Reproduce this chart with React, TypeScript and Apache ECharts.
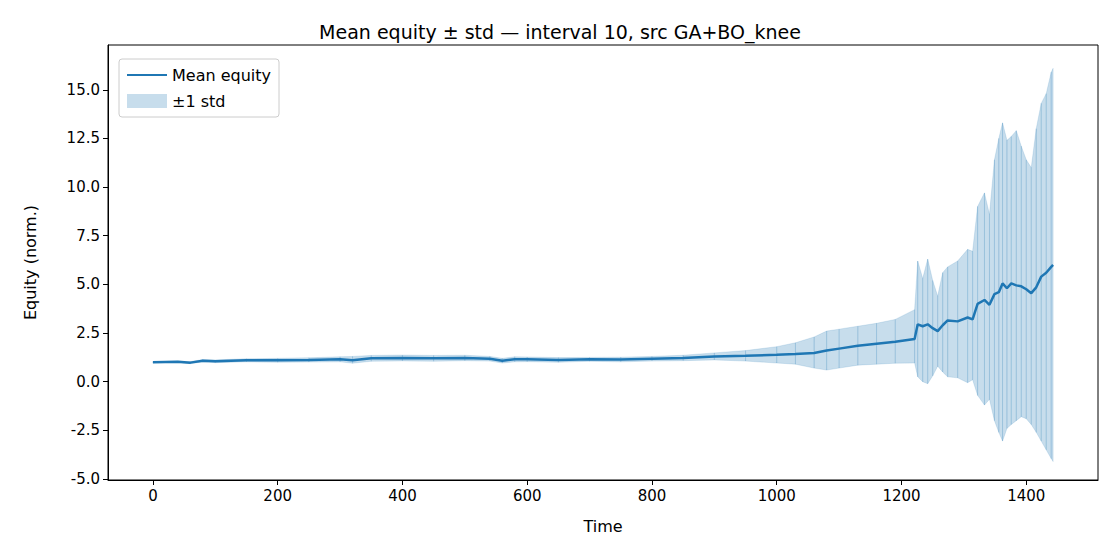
import React, { useEffect, useRef } from "react";
import * as echarts from "echarts";

const times = [0, 40, 60, 80, 100, 150, 200, 250, 300, 320, 350, 400, 450, 500, 540, 560, 580, 600, 650, 700, 750, 800, 850, 900, 950, 1000, 1030, 1060, 1080, 1100, 1130, 1160, 1190, 1221, 1226, 1234, 1242, 1250, 1258, 1266, 1274, 1290, 1306, 1314, 1322, 1333, 1341, 1349, 1356, 1362, 1369, 1376, 1384, 1392, 1400, 1408, 1416, 1424, 1432, 1440, 1443];
const meanVals = [1.0, 1.02, 0.98, 1.08, 1.05, 1.1, 1.1, 1.12, 1.15, 1.1, 1.2, 1.22, 1.2, 1.22, 1.18, 1.08, 1.15, 1.15, 1.12, 1.15, 1.14, 1.18, 1.22, 1.3, 1.33, 1.38, 1.42, 1.48, 1.6, 1.7, 1.85, 1.95, 2.05, 2.2, 2.95, 2.85, 2.95, 2.75, 2.6, 2.9, 3.15, 3.1, 3.3, 3.2, 4.0, 4.2, 3.95, 4.5, 4.6, 5.05, 4.8, 5.05, 4.95, 4.9, 4.75, 4.55, 4.85, 5.4, 5.6, 5.9, 6.0];
const upperVals = [1.02, 1.06, 1.03, 1.14, 1.12, 1.18, 1.2, 1.23, 1.28, 1.3, 1.35, 1.37, 1.35, 1.36, 1.3, 1.2, 1.28, 1.27, 1.24, 1.25, 1.26, 1.3, 1.36, 1.48, 1.6, 1.8, 2.0, 2.3, 2.6, 2.7, 2.85, 3.0, 3.2, 3.7, 6.2, 5.3, 6.3, 5.2, 4.4, 5.6, 5.9, 6.2, 6.8, 6.7, 9.0, 9.7, 8.6, 11.4, 12.5, 13.3, 12.4, 12.6, 12.9, 12.1, 11.4, 11.0, 13.0, 14.3, 14.8, 15.9, 16.1];
const lowerVals = [0.98, 0.98, 0.93, 1.02, 0.98, 1.02, 1.0, 1.01, 1.02, 0.95, 1.05, 1.07, 1.05, 1.08, 1.06, 0.96, 1.02, 1.03, 1.0, 1.05, 1.02, 1.06, 1.08, 1.12, 1.06, 0.96, 0.9, 0.7, 0.6, 0.7, 0.85, 0.9, 0.95, 0.96, 0.25, 0.0, -0.1, 0.3, 0.8, 0.5, 0.25, 0.2, -0.05, 0.1, -0.7, -1.2, -0.9, -2.0, -2.6, -3.05, -2.4, -2.2, -2.0, -1.8, -1.9, -2.2, -2.6, -3.05, -3.5, -3.95, -4.1];

const xTicks = [0, 200, 400, 600, 800, 1000, 1200, 1400];
const yTicks = [-5, -2.5, 0, 2.5, 5, 7.5, 10, 12.5, 15];

const bandColor = "rgba(31,119,180,0.25)";

const App = () => {
  const chartRef = useRef(null);

  useEffect(() => {
    const chart = echarts.init(chartRef.current, null, { renderer: "svg" });
    const font = "DejaVu Sans";
    // one quad per segment between consecutive samples
    const segs = times.slice(0, -1).map((t, i) => [t, times[i + 1], lowerVals[i], upperVals[i], lowerVals[i + 1], upperVals[i + 1]]);
    const mean = times.map((t, i) => [t, meanVals[i]]);
    const axisLine = { show: true, onZero: false, lineStyle: { color: "#000", width: 1 } };

    chart.setOption({
      animation: false,
      textStyle: { fontFamily: font },
      title: {
        text: "Mean equity ± std — interval 10, src GA+BO_knee",
        left: "center",
        top: 9,
        textStyle: { fontFamily: font, fontSize: 19, fontWeight: "normal", color: "#000" },
      },
      legend: {
        left: 111,
        top: 51,
        orient: "vertical",
        borderColor: "#ccc",
        borderWidth: 1,
        borderRadius: 3,
        padding: [8, 8, 8, 8],
        itemGap: 10,
        itemWidth: 40,
        itemHeight: 14,
        textStyle: { fontFamily: font, fontSize: 16, color: "#000" },
        data: [
          { name: "Mean equity", icon: "path://M0,6 L40,6 L40,8 L0,8 Z", itemStyle: { color: "#1f77b4" } },
          { name: "±1 std", icon: "rect", itemStyle: { color: bandColor } },
        ],
      },
      grid: { left: 100, right: 14, top: 37, bottom: 72, show: true, borderColor: "#000", borderWidth: 1 },
      xAxis: {
        type: "value",
        min: -72,
        max: 1515,
        name: "Time",
        nameLocation: "middle",
        nameGap: 38,
        nameTextStyle: { fontSize: 16, color: "#000", fontFamily: font },
        axisLine,
        splitLine: { show: false },
        axisTick: { show: true, customValues: xTicks, length: 5, lineStyle: { color: "#000" } },
        axisLabel: { customValues: xTicks, fontSize: 15, color: "#000", fontFamily: font, margin: 8, formatter: (v: number) => String(v) },
      },
      yAxis: {
        type: "value",
        min: -5.05,
        max: 17.3,
        name: "Equity (norm.)",
        nameLocation: "middle",
        nameGap: 70,
        nameTextStyle: { fontSize: 16, color: "#000", fontFamily: font },
        axisLine,
        splitLine: { show: false },
        axisTick: { show: true, customValues: yTicks, length: 5, lineStyle: { color: "#000" } },
        axisLabel: {
          customValues: yTicks,
          fontSize: 15,
          color: "#000",
          fontFamily: font,
          margin: 8,
          formatter: (v: number) => v.toFixed(1),
        },
      },
      series: [
        {
          name: "±1 std",
          type: "custom",
          data: segs,
          silent: true,
          itemStyle: { color: bandColor },
          renderItem: (params: any, api: any) => {
            const t0 = api.value(0), t1 = api.value(1);
            const pts = [
              api.coord([t0, api.value(2)]),
              api.coord([t1, api.value(4)]),
              api.coord([t1, api.value(5)]),
              api.coord([t0, api.value(3)]),
            ];
            return {
              type: "polygon",
              shape: { points: pts },
              style: { fill: bandColor, stroke: bandColor, lineWidth: 0.6 },
            };
          },
          encode: { x: [0, 1], y: [2, 3, 4, 5] },
        },
        {
          name: "Mean equity",
          type: "line",
          data: mean,
          showSymbol: false,
          lineStyle: { color: "#1f77b4", width: 2.5 },
          itemStyle: { color: "#1f77b4" },
        },
      ],
    });

    return () => chart.dispose();
  }, []);

  return <div ref={chartRef} style={{ width: 1104, height: 544 }}></div>;
};

export default App;
